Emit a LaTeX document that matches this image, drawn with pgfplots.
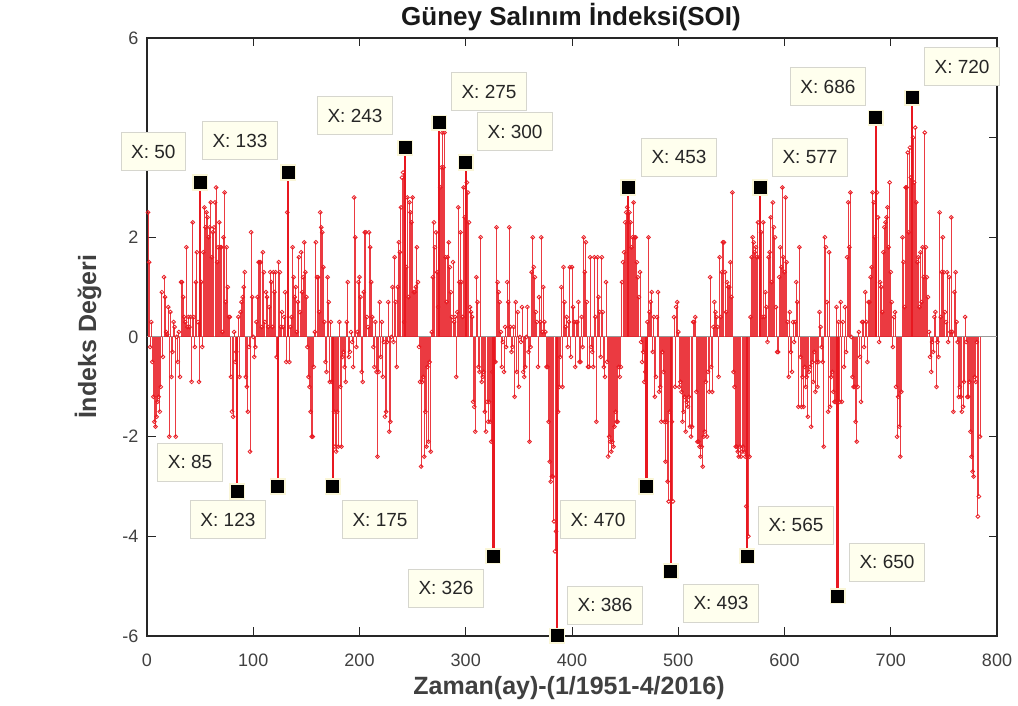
\documentclass[border=0pt]{standalone}
\usepackage{fontspec}
\setmainfont{Liberation Sans}
\usepackage{pgfplots}
\pgfplotsset{compat=1.18}
\definecolor{stemred}{RGB}{232,24,32}
\definecolor{tipfill}{RGB}{255,255,238}
\definecolor{tipedge}{RGB}{250,246,215}
\definecolor{tipborder}{RGB}{214,214,206}
\definecolor{axgray}{RGB}{38,38,38}
\definecolor{lblgray}{RGB}{64,64,64}
\tikzset{tipbox/.style={draw=tipborder, fill=tipfill, line width=0.9pt, inner xsep=10pt, minimum height=38pt, font=\fontsize{19}{21}\selectfont, text=black!85}}
\begin{document}
\begin{tikzpicture}
\useasboundingbox (0,0) rectangle (1018pt,706pt);
\begin{axis}[
  at={(147pt,70pt)}, anchor=south west,
  width=850pt, height=598pt, scale only axis,
  xmin=0, xmax=800, ymin=-6, ymax=6,
  xtick={0,100,...,800}, ytick={-6,-4,...,6},
  yticklabels={-6,-4,-2,0,2,,6},
  tick align=inside, major tick length=8.5pt,
  axis line style={color=axgray, line width=1.1pt},
  tick style={color=axgray, line width=1pt},
  /pgf/number format/assume math mode=true,
  ticklabel style={font=\fontsize{18}{20}\selectfont, text=lblgray},
  xticklabel style={yshift=-14pt},
  yticklabel style={xshift=-5pt},
  clip=false
]
\addplot[color=gray!80, line width=1pt, forget plot] coordinates {(0,0) (800,0)};
\addplot[ycomb, color=stemred, draw opacity=0.85, line width=0.95pt, mark=o, mark size=1.9pt, mark options={line width=0.85pt, color=stemred, draw opacity=0.95}]
table[row sep=\\, x expr=\coordindex+1, y index=0] {y\\
2.5\\1.5\\-0.2\\0.3\\-0.5\\-1.2\\-1.7\\-1.8\\-1.6\\-1.3\\-1.2\\-1.5\\
-1.0\\0.9\\-0.4\\1.2\\0.8\\0.1\\0.05\\0.6\\-2.0\\0.5\\-0.8\\-0.3\\
0.3\\0.2\\-2.0\\0.0\\-0.5\\0.1\\-0.8\\1.1\\1.1\\0.8\\0.4\\0.3\\
1.8\\0.2\\0.4\\0.2\\0.4\\-0.9\\2.3\\0.4\\-0.2\\1.1\\1.7\\0.3\\
-0.9\\3.1\\1.1\\-0.2\\1.7\\2.6\\2.2\\2.5\\2.4\\2.0\\2.2\\2.7\\
1.6\\2.1\\2.2\\2.7\\3.0\\1.5\\1.8\\2.3\\1.8\\1.8\\0.1\\2.0\\
2.9\\0.7\\1.8\\1.0\\0.4\\0.4\\-0.8\\-1.5\\-1.6\\0.1\\-0.5\\-0.3\\
-3.1\\0.4\\-0.8\\0.5\\0.7\\0.8\\1.0\\1.3\\-0.8\\-1.0\\-1.5\\-0.2\\
-2.3\\2.1\\0.8\\0.0\\-0.4\\-0.2\\0.3\\0.8\\1.5\\1.5\\1.5\\0.2\\
1.7\\1.3\\0.3\\0.9\\0.8\\0.2\\0.6\\1.3\\1.1\\0.2\\1.3\\0.9\\
1.3\\-0.4\\-3.0\\1.5\\1.3\\0.2\\0.5\\0.2\\0.4\\0.9\\-0.5\\2.5\\
3.3\\-0.5\\0.2\\0.4\\1.8\\1.2\\0.8\\1.0\\0.1\\0.7\\1.6\\0.5\\
1.7\\0.9\\1.2\\1.9\\1.3\\0.8\\-0.2\\-0.8\\-1.0\\-1.5\\-2.0\\-2.0\\
-0.6\\0.1\\1.9\\1.2\\1.2\\0.5\\2.5\\2.2\\2.1\\1.4\\0.3\\-0.5\\
-0.7\\1.2\\0.7\\-0.9\\0.3\\-0.9\\-3.0\\-1.5\\-2.2\\-2.3\\-1.5\\-2.2\\
0.3\\-1.0\\-2.2\\-0.4\\-0.3\\-0.6\\-0.9\\0.3\\1.1\\-0.4\\-0.3\\0.1\\
-0.1\\-0.6\\2.8\\2.0\\-0.2\\0.1\\1.1\\1.2\\0.8\\-0.7\\-0.9\\0.9\\
2.1\\2.1\\0.4\\0.2\\2.1\\1.8\\1.1\\0.4\\-0.2\\-0.6\\0.3\\-0.7\\
-2.4\\-0.7\\0.7\\-0.4\\0.3\\-0.8\\-0.1\\-1.6\\-1.5\\-0.1\\0.7\\-1.9\\
-1.7\\0.0\\1.0\\-0.1\\1.6\\0.7\\-0.6\\1.0\\1.9\\1.7\\2.6\\3.2\\
3.3\\0.3\\3.8\\1.4\\2.8\\0.8\\2.7\\2.5\\2.3\\2.8\\0.9\\0.9\\
1.0\\1.8\\1.1\\-0.2\\-0.9\\-2.6\\-0.9\\-0.8\\-2.4\\-1.5\\-2.2\\-0.6\\
-2.1\\-0.5\\-2.3\\0.1\\1.2\\2.3\\1.8\\2.1\\1.3\\0.6\\4.3\\3.0\\
3.4\\4.1\\3.4\\4.1\\1.6\\0.7\\1.6\\1.9\\1.4\\0.9\\0.4\\1.5\\
0.3\\0.4\\-0.8\\0.5\\2.6\\1.1\\2.1\\1.1\\0.4\\3.0\\2.4\\3.5\\
3.1\\2.9\\2.3\\0.6\\0.5\\0.4\\-1.3\\-1.4\\-1.9\\1.2\\0.7\\-0.6\\
-0.7\\2.0\\-0.9\\-0.8\\-0.7\\-1.5\\-1.9\\-1.3\\-1.7\\-1.3\\-1.7\\-2.1\\
-0.7\\-4.4\\-0.5\\-0.5\\2.2\\1.1\\0.9\\0.7\\0.1\\-0.6\\-0.1\\-0.7\\
0.2\\-0.2\\1.1\\0.7\\2.2\\0.2\\-0.3\\-0.2\\0.2\\-1.2\\0.7\\-0.7\\
0.5\\-1.0\\0.0\\-0.1\\0.6\\-0.7\\-0.8\\-0.6\\0.0\\0.6\\-0.3\\-2.1\\
-0.2\\1.3\\2.0\\1.4\\1.2\\0.5\\0.3\\-0.6\\0.8\\0.3\\2.0\\0.1\\
1.0\\0.3\\0.1\\-0.6\\-0.6\\-1.7\\-2.5\\-2.9\\-2.8\\-2.8\\-3.7\\-4.3\\
-3.9\\-6.0\\-1.5\\-1.0\\-0.4\\1.0\\-1.0\\1.4\\0.7\\0.2\\0.4\\-0.2\\
0.3\\1.4\\-0.4\\1.4\\0.6\\0.3\\-0.6\\0.3\\0.3\\0.7\\-0.5\\-0.5\\
0.4\\-0.2\\2.0\\1.3\\1.9\\0.7\\-0.6\\-0.6\\1.6\\-0.2\\-0.3\\-0.6\\
1.6\\0.4\\-1.7\\1.6\\0.8\\0.5\\-0.4\\1.6\\0.5\\-0.6\\-0.8\\1.1\\
-0.5\\-2.4\\-2.0\\-2.1\\-2.3\\-2.1\\-2.2\\-1.8\\-1.5\\-1.7\\-1.7\\-0.6\\
-0.8\\-0.6\\1.1\\1.5\\1.7\\2.3\\2.5\\2.6\\3.0\\2.5\\2.3\\1.8\\
2.0\\2.7\\2.0\\2.0\\1.5\\1.2\\0.8\\1.3\\-0.1\\-0.5\\-0.3\\-0.9\\
-0.7\\-3.0\\0.3\\2.0\\0.5\\0.7\\0.9\\-0.3\\0.4\\-1.2\\-0.8\\0.4\\
0.9\\-1.1\\-1.0\\-1.7\\-0.3\\-0.7\\-1.7\\-2.5\\-1.7\\-2.9\\-3.3\\-1.5\\
-4.7\\-1.7\\-3.3\\0.4\\-1.0\\0.6\\0.7\\0.1\\-1.0\\-0.9\\-1.1\\-1.7\\
-1.5\\-1.2\\-1.9\\-1.3\\-1.4\\-1.2\\-1.8\\-2.0\\-1.8\\0.3\\0.3\\0.4\\
-1.1\\-2.1\\-2.1\\-2.2\\-2.4\\-2.2\\-2.6\\-2.0\\-1.9\\-0.9\\-2.0\\-0.7\\
-1.1\\1.2\\-0.6\\-1.1\\0.2\\0.7\\0.5\\0.4\\0.2\\-0.8\\1.6\\0.4\\
1.3\\1.9\\1.9\\1.3\\0.5\\1.1\\1.0\\1.0\\1.5\\0.8\\2.9\\-0.7\\
-1.0\\-2.2\\-2.2\\-2.3\\-2.4\\-2.2\\-2.4\\-2.3\\-2.2\\-2.3\\-2.4\\-3.4\\
-4.4\\-4.0\\-2.4\\0.4\\1.6\\2.0\\1.9\\1.7\\1.8\\1.6\\2.3\\1.6\\
3.0\\2.1\\0.4\\2.3\\0.4\\0.9\\0.6\\-0.1\\1.6\\1.7\\2.4\\1.1\\
2.7\\2.2\\2.0\\0.6\\-0.3\\-0.3\\1.2\\1.8\\1.4\\3.0\\1.6\\1.3\\
2.8\\1.5\\0.3\\-0.8\\0.5\\-0.3\\-0.7\\0.3\\-0.1\\0.3\\1.1\\0.7\\
-1.4\\1.8\\-0.4\\-1.4\\-0.8\\-1.4\\-0.6\\-1.0\\-0.8\\-1.6\\-0.7\\-0.6\\
-1.8\\-0.5\\-0.9\\-0.3\\-1.1\\-0.5\\-1.0\\-0.5\\0.5\\0.2\\-0.2\\-0.5\\
-2.2\\2.0\\1.8\\0.7\\-1.5\\1.7\\-1.4\\-0.8\\-0.7\\-1.1\\-1.3\\-1.3\\
0.6\\-5.2\\0.3\\-1.3\\0.7\\-1.3\\0.3\\-0.6\\0.6\\-0.3\\1.6\\2.7\\
1.8\\2.9\\0.0\\-0.8\\-1.0\\-1.0\\-1.7\\-2.1\\-1.0\\0.1\\-0.4\\-1.3\\
0.3\\0.3\\-0.2\\0.9\\0.3\\-0.5\\0.7\\0.7\\1.2\\1.4\\2.9\\2.7\\
2.0\\4.4\\2.9\\2.4\\-0.1\\1.1\\1.0\\0.5\\1.7\\2.2\\2.3\\2.4\\
2.6\\1.8\\3.1\\1.3\\0.7\\-0.2\\0.4\\0.5\\-1.0\\-2.0\\-1.2\\-1.8\\
-2.4\\-1.1\\2.0\\1.5\\0.6\\3.0\\3.0\\3.7\\2.1\\3.8\\3.2\\4.8\\
4.0\\3.1\\4.2\\2.7\\1.5\\1.6\\0.6\\1.7\\0.7\\1.8\\1.2\\4.1\\
1.8\\1.2\\0.8\\0.1\\-0.4\\-0.7\\-0.1\\-0.3\\0.4\\0.5\\-1.0\\-0.1\\
-0.4\\2.5\\0.4\\1.3\\2.0\\1.3\\0.5\\0.3\\1.3\\-0.1\\1.2\\0.1\\
2.4\\0.1\\-1.5\\0.9\\1.3\\0.3\\-0.1\\-1.2\\-1.0\\-1.2\\-1.5\\-1.4\\
-0.9\\0.4\\-0.1\\-1.2\\-1.2\\-0.9\\-1.9\\-2.4\\-2.7\\-2.8\\-0.8\\-0.9\\
-0.1\\-3.6\\-3.2\\-2.0\\
};
% data tip stems and markers
\addplot[ycomb, color=stemred, line width=2.3pt, mark=none] coordinates {
(50,3.1) (85,-3.1) (123,-3.0) (133,3.3) (175,-3.0) (243,3.8) (275,4.3) (300,3.5) (326,-4.4)
(386,-6.0) (453,3.0) (470,-3.0) (493,-4.7) (565,-4.4) (577,3.0) (650,-5.2) (686,4.4) (720,4.8)};
\addplot[only marks, mark=square*, mark size=7.3pt, mark options={fill=black, draw=tipedge, line width=1.6pt}] coordinates {
(50,3.1) (85,-3.1) (123,-3.0) (133,3.3) (175,-3.0) (243,3.8) (275,4.3) (300,3.5) (326,-4.4)
(386,-6.0) (453,3.0) (470,-3.0) (493,-4.7) (565,-4.4) (577,3.0) (650,-5.2) (686,4.4) (720,4.8)};
\node[tipbox] at (axis cs:6,3.72) {X: 50};
\node[tipbox] at (axis cs:40.5,-2.51) {X: 85};
\node[tipbox] at (axis cs:76.2,-3.67) {X: 123};
\node[tipbox] at (axis cs:87.5,3.94) {X: 133};
\node[tipbox] at (axis cs:219.3,-3.67) {X: 175};
\node[tipbox] at (axis cs:195.8,4.44) {X: 243};
\node[tipbox] at (axis cs:321.9,4.92) {X: 275};
\node[tipbox] at (axis cs:346.4,4.12) {X: 300};
\node[tipbox] at (axis cs:281.4,-5.04) {X: 326};
\node[tipbox] at (axis cs:431.1,-5.38) {X: 386};
\node[tipbox] at (axis cs:500.7,3.61) {X: 453};
\node[tipbox] at (axis cs:424.5,-3.67) {X: 470};
\node[tipbox] at (axis cs:540.2,-5.34) {X: 493};
\node[tipbox] at (axis cs:610.8,-3.78) {X: 565};
\node[tipbox] at (axis cs:624,3.61) {X: 577};
\node[tipbox] at (axis cs:696.5,-4.52) {X: 650};
\node[tipbox] at (axis cs:640.9,5.02) {X: 686};
\node[tipbox] at (axis cs:767.1,5.42) {X: 720};
\end{axis}
\node[font=\fontsize{26}{30}\selectfont\bfseries, text=black!90] at (571pt,689pt) {Güney Salınım İndeksi(SOI)};
\node[font=\fontsize{25}{29}\selectfont\bfseries, text=lblgray] at (569pt,18pt) {Zaman(ay)-(1/1951-4/2016)};
\node[font=\fontsize{25}{29}\selectfont\bfseries, text=lblgray, rotate=90] at (88pt,369pt) {İndeks Değeri};
\end{tikzpicture}
\end{document}
